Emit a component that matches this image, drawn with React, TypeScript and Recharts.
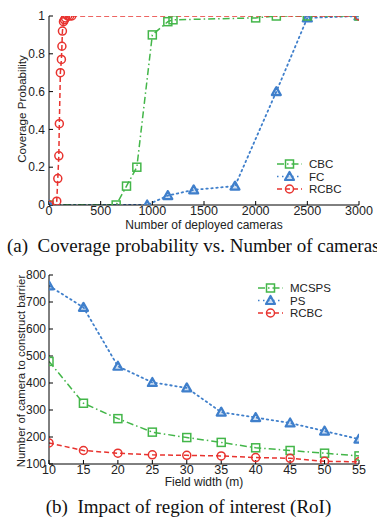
import React from 'react';
import { LineChart, Line, XAxis, YAxis } from 'recharts';

// ---- Chart (a): coverage probability vs. number of deployed cameras ----
const cbcCameras = [0, 650, 750, 850, 1000, 1150, 1200, 2000, 2200, 2500, 3000];
const cbcProb = [0, 0, 0.1, 0.2, 0.9, 0.97, 0.98, 0.99, 1, 1, 1];
const fcCameras = [0, 950, 1150, 1400, 1800, 2200, 2500, 3000];
const fcProb = [0, 0, 0.05, 0.08, 0.1, 0.6, 0.99, 1];
const rcbcCameras = [0, 75, 85, 95, 100, 110, 120, 125, 130, 140, 150, 160, 180, 200, 220, 3000];
const rcbcProb = [0, 0.02, 0.14, 0.26, 0.43, 0.7, 0.77, 0.84, 0.92, 0.97, 0.98, 0.99, 1, 1, 1, 1];
const camTicks = [0, 500, 1000, 1500, 2000, 2500, 3000];
const probTicks = [0, 0.2, 0.4, 0.6, 0.8, 1];

// ---- Chart (b): number of cameras vs. field width ----
const fieldWidths = [10, 15, 20, 25, 30, 35, 40, 45, 50, 55];
const mcspsCount = [480, 325, 268, 218, 198, 180, 160, 150, 140, 130];
const psCount = [760, 680, 462, 402, 382, 292, 272, 252, 222, 192];
const rcbcCount = [178, 150, 140, 134, 132, 130, 124, 121, 110, 108];
const widthTicks = [10, 15, 20, 25, 30, 35, 40, 45, 50, 55];
const countTicks = [100, 200, 300, 400, 500, 600, 700, 800];

const GREEN = '#43b649';
const BLUE = '#3f7fcb';
const RED = '#e8332f';

const zip = (xs: number[], ys: number[]) => xs.map((x, i) => ({ x, y: ys[i] }));
const cbcData = zip(cbcCameras, cbcProb);
const fcData = zip(fcCameras, fcProb);
const rcbcData = zip(rcbcCameras, rcbcProb);
const mcspsData = zip(fieldWidths, mcspsCount);
const psData = zip(fieldWidths, psCount);
const rcbc2Data = zip(fieldWidths, rcbcCount);

const SANS = '"Liberation Sans", Arial, sans-serif';
const SERIF = '"Liberation Serif", "Times New Roman", serif';

const squareDot = (color: string) => (p: any) => {
  const { cx, cy, index } = p;
  if (cx == null || cy == null) return <g key={index} />;
  return <rect key={index} x={cx - 4} y={cy - 4} width={8} height={8} fill="none" stroke={color} strokeWidth={1.5} />;
};
const triPoints = (cx: number, cy: number) => `${cx},${cy - 4.5} ${cx - 4.5},${cy + 3.5} ${cx + 4.5},${cy + 3.5}`;
const triDot = (color: string) => (p: any) => {
  const { cx, cy, index } = p;
  if (cx == null || cy == null) return <g key={index} />;
  return <polygon key={index} points={triPoints(cx, cy)} fill={color} fillOpacity={0.25} stroke={color} strokeWidth={2.2} strokeLinejoin="round" />;
};
const circDot = (color: string) => (p: any) => {
  const { cx, cy, index } = p;
  if (cx == null || cy == null) return <g key={index} />;
  return <circle key={index} cx={cx} cy={cy} r={4} fill="none" stroke={color} strokeWidth={1.5} />;
};

const DASHDOT = '7 3 1.5 3';
const DOT = '1.5 3.5';
const DASH = '5 3';

const tickStyle = { fontFamily: SANS, fontSize: 12, fill: '#222' };
const axisStroke = { stroke: '#000', strokeWidth: 1 };

function LegendBox(props: { x: number; y: number; items: { label: string; color: string; dash: string; marker: string }[] }) {
  const { x, y, items } = props;
  return (
    <g>
      {items.map((it, i) => {
        const yy = y + i * 12.5;
        const mx = x + 12.5;
        let m: any = null;
        if (it.marker === 'square') m = <rect x={mx - 4} y={yy - 4} width={8} height={8} fill="none" stroke={it.color} strokeWidth={1.5} />;
        if (it.marker === 'tri') m = <polygon points={triPoints(mx, yy)} fill={it.color} fillOpacity={0.25} stroke={it.color} strokeWidth={2.2} strokeLinejoin="round" />;
        if (it.marker === 'circle') m = <circle cx={mx} cy={yy} r={4} fill="none" stroke={it.color} strokeWidth={1.5} />;
        return (
          <g key={it.label}>
            <line x1={x} y1={yy} x2={x + 25} y2={yy} stroke={it.color} strokeWidth={1.5} strokeDasharray={it.dash} />
            {m}
            <text x={x + 32} y={yy} dominantBaseline="central" fontFamily={SANS} fontSize={11.5} fill="#222">{it.label}</text>
          </g>
        );
      })}
    </g>
  );
}

export default function App() {
  return (
    <div style={{ position: 'absolute', left: 0, top: 0, width: 377, height: 520, background: '#fff', overflow: 'hidden' }}>
      <div style={{ position: 'absolute', left: 0, top: 0 }}>
        <LineChart width={377} height={235} margin={{ top: 16, right: 18, bottom: 0, left: 0 }}>
          <XAxis xAxisId="b" dataKey="x" type="number" domain={[0, 3000]} ticks={camTicks} allowDataOverflow
            height={30} tickSize={-4} tickMargin={5} tick={{ ...tickStyle, fontSize: 12.5 }} axisLine={axisStroke} tickLine={axisStroke} />
          <XAxis xAxisId="t" orientation="top" dataKey="x" type="number" domain={[0, 3000]} ticks={camTicks} allowDataOverflow
            height={0} tickSize={-4} tick={false} axisLine={axisStroke} tickLine={axisStroke} />
          <YAxis yAxisId="l" type="number" domain={[0, 1]} ticks={probTicks} allowDataOverflow width={49}
            tickSize={-4} tickMargin={8} tick={tickStyle} axisLine={axisStroke} tickLine={axisStroke} />
          <YAxis yAxisId="r" orientation="right" type="number" domain={[0, 1]} ticks={probTicks} allowDataOverflow width={0}
            tickSize={-4} tick={false} axisLine={axisStroke} tickLine={axisStroke} />
          <Line xAxisId="b" yAxisId="l" data={fcData} dataKey="y" stroke={BLUE} strokeWidth={1.8} strokeDasharray={DOT} strokeLinecap="round" dot={triDot(BLUE)} isAnimationActive={false} />
          <Line xAxisId="b" yAxisId="l" data={cbcData} dataKey="y" stroke={GREEN} strokeWidth={1.5} strokeDasharray={DASHDOT} dot={squareDot(GREEN)} isAnimationActive={false} />
          <Line xAxisId="b" yAxisId="l" data={rcbcData} dataKey="y" stroke={RED} strokeWidth={1.5} strokeDasharray={DASH} dot={circDot(RED)} isAnimationActive={false} />
        </LineChart>
      </div>
      <div style={{ position: 'absolute', left: 0, top: 260 }}>
        <LineChart width={377} height={234} margin={{ top: 15, right: 18, bottom: 0, left: 0 }}>
          <XAxis xAxisId="b" dataKey="x" type="number" domain={[10, 55]} ticks={widthTicks} allowDataOverflow
            height={30} tickSize={-4} tickMargin={5} tick={{ ...tickStyle, fontSize: 12.5 }} axisLine={axisStroke} tickLine={axisStroke} />
          <XAxis xAxisId="t" orientation="top" dataKey="x" type="number" domain={[10, 55]} ticks={widthTicks} allowDataOverflow
            height={0} tickSize={-4} tick={false} axisLine={axisStroke} tickLine={axisStroke} />
          <YAxis yAxisId="l" type="number" domain={[100, 800]} ticks={countTicks} allowDataOverflow width={49}
            tickSize={-4} tickMargin={7} tick={tickStyle} axisLine={axisStroke} tickLine={axisStroke} />
          <YAxis yAxisId="r" orientation="right" type="number" domain={[100, 800]} ticks={countTicks} allowDataOverflow width={0}
            tickSize={-4} tick={false} axisLine={axisStroke} tickLine={axisStroke} />
          <Line xAxisId="b" yAxisId="l" data={psData} dataKey="y" stroke={BLUE} strokeWidth={1.8} strokeDasharray={DOT} strokeLinecap="round" dot={triDot(BLUE)} isAnimationActive={false} />
          <Line xAxisId="b" yAxisId="l" data={mcspsData} dataKey="y" stroke={GREEN} strokeWidth={1.5} strokeDasharray={DASHDOT} dot={squareDot(GREEN)} isAnimationActive={false} />
          <Line xAxisId="b" yAxisId="l" data={rcbc2Data} dataKey="y" stroke={RED} strokeWidth={1.5} strokeDasharray={DASH} dot={circDot(RED)} isAnimationActive={false} />
        </LineChart>
      </div>
      <svg width={377} height={520} style={{ position: 'absolute', left: 0, top: 0, pointerEvents: 'none' }}>
        <LegendBox x={277} y={164} items={[
          { label: 'CBC', color: GREEN, dash: DASHDOT, marker: 'square' },
          { label: 'FC', color: BLUE, dash: DOT, marker: 'tri' },
          { label: 'RCBC', color: RED, dash: DASH, marker: 'circle' },
        ]} />
        <LegendBox x={258} y={288} items={[
          { label: 'MCSPS', color: GREEN, dash: DASHDOT, marker: 'square' },
          { label: 'PS', color: BLUE, dash: DOT, marker: 'tri' },
          { label: 'RCBC', color: RED, dash: DASH, marker: 'circle' },
        ]} />
        <text x={204} y={225} textAnchor="middle" dominantBaseline="central" fontFamily={SANS} fontSize={12} fill="#222">Number of deployed cameras</text>
        <text x={21} y={109} textAnchor="middle" dominantBaseline="central" fontFamily={SANS} fontSize={11.6} fill="#222" transform="rotate(-90 21 109)">Coverage Probability</text>
        <text x={204} y={482} textAnchor="middle" dominantBaseline="central" fontFamily={SANS} fontSize={12} fill="#222">Field width (m)</text>
        <text x={21} y={371} textAnchor="middle" dominantBaseline="central" fontFamily={SANS} fontSize={11.4} fill="#222" transform="rotate(-90 21 371)">Number of camera to construct barrier</text>
        <text x={7} y={252} fontFamily={SERIF} fontSize={19} fill="#111" style={{ whiteSpace: 'pre' }} xmlSpace="preserve">(a)  Coverage probability vs. Number of cameras</text>
        <text x={188.5} y={513} textAnchor="middle" fontFamily={SERIF} fontSize={19} fill="#111" style={{ whiteSpace: 'pre' }} xmlSpace="preserve">(b)  Impact of region of interest (RoI)</text>
      </svg>
    </div>
  );
}
